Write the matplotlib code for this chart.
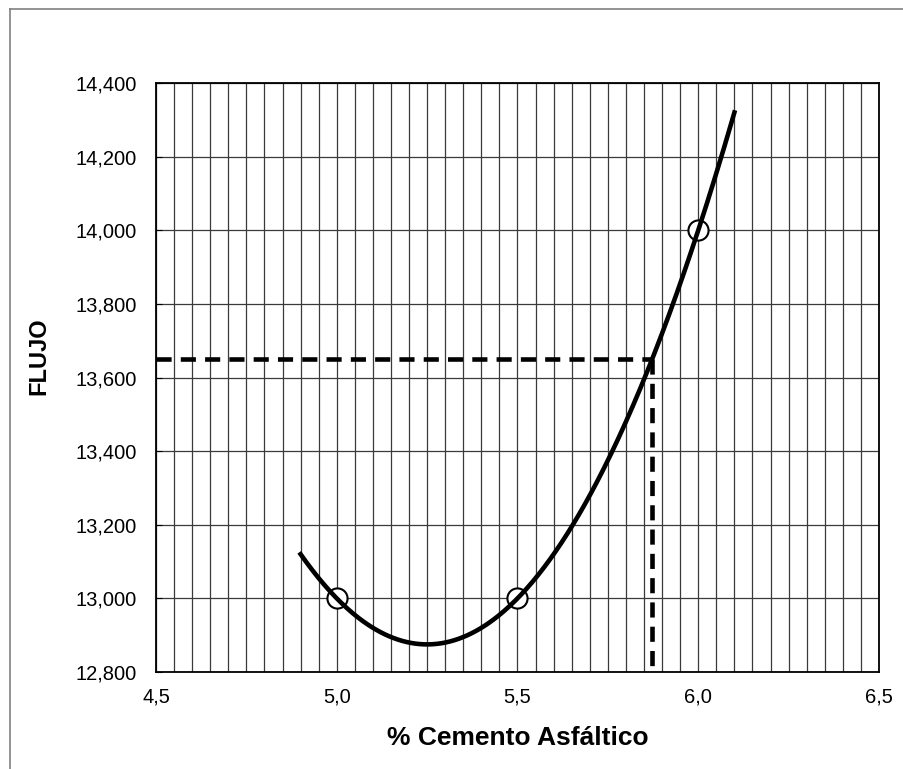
import numpy as np
import matplotlib
matplotlib.use("Agg")
import matplotlib.pyplot as plt
from matplotlib.lines import Line2D
from matplotlib.ticker import MultipleLocator, FuncFormatter

plt.rcParams['font.family'] = ['Liberation Sans', 'DejaVu Sans']

# Ensayo Marshall: flujo vs. contenido de asfalto
asfalto = [5.0, 5.5, 6.0]
flujo = [13000, 13000, 14000]
flujo_diseno = 13650
curva_rango = [4.9, 6.1]

W, H = 904, 769
L, R, T, B = 156, 879, 83, 672
fig = plt.figure(figsize=(W / 100, H / 100), dpi=100)
ax = fig.add_axes([L / W, 1 - B / H, (R - L) / W, (B - T) / H])

# outer chart frame (top and left edges)
fig.add_artist(Line2D([10 / W, 10 / W], [0, 1 - 9 / H], transform=fig.transFigure,
                      color='#808080', lw=1.2))
fig.add_artist(Line2D([10 / W, 1], [1 - 9 / H, 1 - 9 / H], transform=fig.transFigure,
                      color='#808080', lw=1.2))

# polynomial trendline (2nd order) through the measured points
coef = np.polyfit(asfalto, flujo, 2)
xs = np.linspace(curva_rango[0], curva_rango[1], 300)
ax.plot(xs, np.polyval(coef, xs), color='black', lw=3.3, zorder=5)

# design flow value and matching asphalt content
a, b, c = coef
roots = np.roots([a, b, c - flujo_diseno])
x_diseno = max(r.real for r in roots)
ax.plot([4.5, x_diseno], [flujo_diseno, flujo_diseno], color='black', lw=3.3,
        dashes=(3.3, 2.0), zorder=3)
ax.plot([x_diseno, x_diseno], [flujo_diseno, 12797], color='black', lw=3.3,
        dashes=(3.3, 2.0), zorder=3, clip_on=False)

ax.plot(asfalto, flujo, 'o', ms=14.5, mfc='white', mec='black', mew=1.5, zorder=4)

ax.set_xlim(4.5, 6.5)
ax.set_ylim(12800, 14400)
ax.xaxis.set_major_locator(MultipleLocator(0.5))
ax.xaxis.set_minor_locator(MultipleLocator(0.05))
ax.yaxis.set_major_locator(MultipleLocator(200))
ax.grid(which='both', axis='x', color='#3a3a3a', lw=0.9)
ax.grid(which='major', axis='y', color='#3a3a3a', lw=0.9)
ax.set_axisbelow(True)

ax.xaxis.set_major_formatter(FuncFormatter(lambda v, p: f"{v:.1f}".replace('.', ',')))
ax.yaxis.set_major_formatter(FuncFormatter(lambda v, p: f"{v:,.0f}"))
ax.tick_params(axis='x', which='both', length=0, pad=11, labelsize=14.5)
ax.tick_params(axis='y', which='both', length=4, direction='in', pad=14, labelsize=14.5)

for s in ax.spines.values():
    s.set_color('black')
    s.set_linewidth(1.3)

ax.set_xlabel('% Cemento Asfáltico', fontsize=19, fontweight='bold', va='center')
ax.xaxis.set_label_coords(0.5, (B - 738) / (B - T))
ax.set_ylabel('FLUJO', fontsize=17, fontweight='bold', va='center')
ax.yaxis.set_label_coords((39 - L) / (R - L), (B - 356) / (B - T))

fig.savefig('out.png', dpi=100, facecolor='white')
